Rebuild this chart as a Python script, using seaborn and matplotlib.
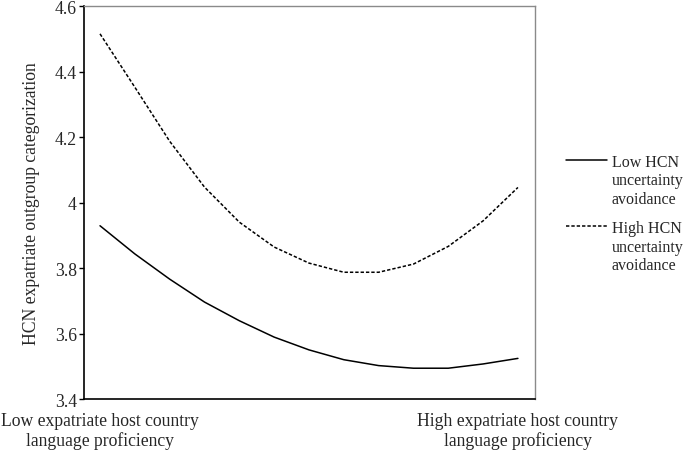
import numpy as np
import pandas as pd
import matplotlib
matplotlib.use("Agg")
import matplotlib.pyplot as plt
import matplotlib.ticker as mticker
import seaborn as sns

# values (13 evenly spaced points along proficiency)
steps = list(range(13))
low_ua = [3.929, 3.843, 3.766, 3.696, 3.639, 3.589, 3.550, 3.520, 3.502,
          3.494, 3.494, 3.507, 3.524]
high_ua = [4.515, 4.352, 4.187, 4.047, 3.940, 3.864, 3.815, 3.787, 3.787,
           3.812, 3.866, 3.944, 4.046]
series_names = ["Low HCN\nuncertainty\navoidance",
                "High HCN\nuncertainty\navoidance"]
x_ticklabels = ["Low expatriate host country\nlanguage proficiency",
                "High expatriate host country\nlanguage proficiency"]
y_ticks = [3.4, 3.6, 3.8, 4.0, 4.2, 4.4, 4.6]

df = pd.DataFrame({
    "step": steps * 2,
    "value": low_ua + high_ua,
    "group": [series_names[0]] * len(steps) + [series_names[1]] * len(steps),
})

sns.set_style("white")
plt.rcParams["font.family"] = ["Liberation Serif", "DejaVu Serif"]

fig = plt.figure(figsize=(6.85, 4.52), dpi=100)
ax = fig.add_axes([84 / 685, 1 - 400 / 452, (535 - 84) / 685, (400 - 7) / 452])

sns.lineplot(data=df, x="step", y="value", hue="group", style="group",
             palette=["black", "black"], dashes=["", (2.2, 1.3)],
             linewidth=1.1, ax=ax)

ax.set_xlim(-0.46, 12.49)
ax.set_ylim(3.4, 4.6)
ax.set_yticks(y_ticks)
ax.yaxis.set_major_formatter(mticker.FuncFormatter(lambda v, p: f"{v:g}"))
ax.set_xticks([steps[0], steps[-1]])
ax.set_xticklabels(x_ticklabels, fontsize=12.7)
ax.tick_params(axis="x", length=0, pad=9)
ax.tick_params(axis="y", length=3.6, width=1, direction="out", pad=1.5,
               labelsize=12.7, left=True, color="black")
ax.set_xlabel("")
ax.set_ylabel("HCN expatriate outgroup categorization", fontsize=12.7, labelpad=11)

for side in ["left", "bottom"]:
    ax.spines[side].set_color("black")
    ax.spines[side].set_linewidth(1.2)
for side in ["top", "right"]:
    ax.spines[side].set_color("#8a8a8a")
    ax.spines[side].set_linewidth(1.0)

handles, labels = ax.get_legend_handles_labels()
leg = ax.legend(handles, labels, loc="upper left",
                bbox_to_anchor=(566 / 685, 1 - 155 / 452),
                bbox_transform=fig.transFigure, frameon=False, fontsize=11.5,
                handlelength=2.55, handletextpad=0.3, labelspacing=0.85,
                borderpad=0, borderaxespad=0)
for t in leg.get_texts():
    t.set_linespacing(1.2)
# keep the line next to the first text row, as in the source
for col in leg._legend_handle_box.get_children():
    for row in col.get_children():
        row.align = "top"

fig.savefig("out.png", dpi=100)
